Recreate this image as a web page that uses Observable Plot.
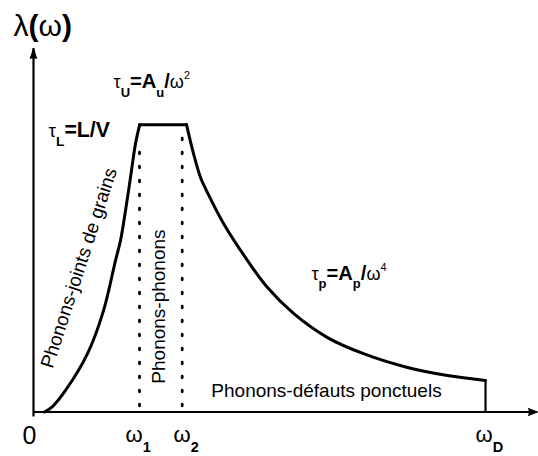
<!DOCTYPE html>
<html><head><meta charset="utf-8">
<script src="https://cdn.jsdelivr.net/npm/d3@7"></script>
<script src="https://cdn.jsdelivr.net/npm/@observablehq/plot@0.6"></script>
<style>
html,body{margin:0;padding:0;background:#fff;}
</style>
</head><body><div id="chart"></div>
<script>
// ---- data (ω in units of ωD/100, λ relative to the plateau) ----
const risingOmega  = [2.43, 4.2, 7.08, 11.95, 15.49, 18.14, 19.25, 20.35, 21.46, 22.57, 23.5];
const risingLambda = [0, 0.019, 0.075, 0.203, 0.353, 0.527, 0.597, 0.70, 0.816, 0.934, 1.0];
const plateauOmega  = [23.5, 33.85];
const plateauLambda = [1.0, 1.0];
const fallingOmega  = [33.85, 35.4, 36.95, 38.5, 42.04, 47.35, 51.77, 57.52, 65.04, 73.01, 82.74, 91.59, 100];
const fallingLambda = [1.0, 0.899, 0.816, 0.763, 0.656, 0.527, 0.433, 0.343, 0.259, 0.203, 0.155, 0.127, 0.110];
const cutoffOmega  = [100, 100];
const cutoffLambda = [0.110, 0];
const regimeBounds   = [23.45, 32.9];   // ω1, ω2
const regimeBoundTop = [0.937, 0.986];
const originLabel = ["0"];
const omegaLabels = ["ω_1", "ω_2", "ω_D"];
const axisTitle = ["λ(ω)"];
const formulas = ["τ_U=A_u/ω^2", "τ_L=L/V", "τ_p=A_p/ω^4"];
const regimes = ["Phonons-joints de grains", "Phonons-phonons", "Phonons-défauts ponctuels"];

const FONT = "'Liberation Sans', Arial, Helvetica, sans-serif";
const xDomain = [0, 111.5];
const yDomain = [0, 1.265];

const curve = [
  ...risingOmega.map((w, i) => ({seg: "rising", w, l: risingLambda[i]})),
  ...plateauOmega.map((w, i) => ({seg: "plateau", w, l: plateauLambda[i]})),
  ...fallingOmega.map((w, i) => ({seg: "falling", w, l: fallingLambda[i]}))
];
const cutoff = cutoffOmega.map((w, i) => ({w, l: cutoffLambda[i]}));

const plot = Plot.plot({
  width: 538, height: 456,
  marginLeft: 33, marginRight: 1, marginTop: 48, marginBottom: 44.5,
  x: {domain: xDomain, axis: null},
  y: {domain: yDomain, axis: null},
  style: {fontFamily: FONT, background: "white", overflow: "visible", color: "black"},
  marks: [
    // axes with arrowheads
    Plot.ruleY([0], {x1: xDomain[0], x2: xDomain[1], strokeWidth: 2.2, insetRight: 5}),
    Plot.ruleX([0], {y1: yDomain[0], y2: yDomain[1], strokeWidth: 2.2, insetTop: 5}),
    Plot.vector([0], {x: xDomain[1], y: 0, rotate: 90, length: 9, r: 3.5, shape: "spike", anchor: "end", fill: "black", stroke: "black", strokeWidth: 1}),
    Plot.vector([0], {x: 0, y: yDomain[1], rotate: 0, length: 10, r: 3.2, shape: "spike", anchor: "end", fill: "black", stroke: "black", strokeWidth: 1}),
    // regime boundaries (dotted)
    Plot.ruleX(regimeBounds, {y1: 0.02, y2: regimeBoundTop, strokeWidth: 2.8, strokeDasharray: "1.5 12.5", strokeLinecap: "round"}),
    // mean free path curve
    Plot.line(curve, {x: "w", y: "l", z: "seg", curve: "catmull-rom", stroke: "black", strokeWidth: 3, strokeLinecap: "round"}),
    Plot.line(cutoff, {x: "w", y: "l", stroke: "black", strokeWidth: 2.2}),
    // regime labels
    Plot.text([regimes[0]], {x: 10.07, y: 0.501, rotate: -72, fontSize: 19, textAnchor: "middle"}),
    Plot.text([regimes[1]], {x: 27.65, y: 0.367, rotate: -90, fontSize: 19, textAnchor: "middle"}),
    Plot.text([regimes[2]], {x: 64.82, y: 0.0505, fontSize: 19, textAnchor: "middle", lineAnchor: "bottom"}),
    // formulas
    Plot.text([formulas[0]], {x: 17.70, y: 1.1258, fontSize: 18, textAnchor: "start", lineAnchor: "bottom", className: "rich-f"}),
    Plot.text([formulas[1]], {x: 3.32, y: 0.9553, fontSize: 19, textAnchor: "start", lineAnchor: "bottom", className: "rich-f"}),
    Plot.text([formulas[2]], {x: 61.5, y: 0.4611, fontSize: 18, textAnchor: "start", lineAnchor: "bottom", className: "rich-f"}),
    // axis title
    Plot.text(axisTitle, {x: -4.42, y: 1.3085, fontSize: 30, textAnchor: "start", lineAnchor: "bottom", className: "rich-t"}),
    // tick labels
    Plot.text(originLabel, {x: -2.43, y: -0.1097, fontSize: 25, textAnchor: "start", lineAnchor: "bottom"}),
    Plot.text(omegaLabels, {x: [20.35, 30.97, 97.79], y: -0.103, fontSize: 22, textAnchor: "start", lineAnchor: "bottom", className: "rich-w"})
  ]
});

document.getElementById("chart").appendChild(plot);

function richify(svg, cls, {boldScale = 1.1, subScale = 0.72, subShift = 0.45, supScale = 0.6, supShift = -0.5} = {}) {
  for (const t of svg.querySelectorAll(`g.${cls} text`)) {
    const base = parseFloat(getComputedStyle(t).fontSize);
    const src = t.textContent;
    const runs = [];
    for (let i = 0; i < src.length; i++) {
      let ch = src[i], kind = "main";
      if ((ch === "_" || ch === "^") && i + 1 < src.length) { kind = ch === "_" ? "sub" : "sup"; ch = src[++i]; }
      const greek = /[\u0370-\u03ff]/.test(ch);
      const bold = kind === "sub" ? true : kind === "sup" ? false : (!greek && !/[0-9]/.test(ch));
      const last = runs[runs.length - 1];
      if (last && last.kind === kind && last.bold === bold) last.text += ch;
      else runs.push({text: ch, kind, bold});
    }
    t.textContent = "";
    let offset = 0;
    for (const r of runs) {
      const size = r.kind === "sub" ? base * subScale : r.kind === "sup" ? base * supScale : r.bold ? base * boldScale : base;
      const target = r.kind === "sub" ? base * subShift : r.kind === "sup" ? base * supShift : 0;
      const ts = document.createElementNS("http://www.w3.org/2000/svg", "tspan");
      ts.setAttribute("font-size", size);
      ts.setAttribute("font-weight", r.bold ? "bold" : "normal");
      if (target !== offset) ts.setAttribute("dy", target - offset);
      offset = target;
      ts.textContent = r.text;
      t.appendChild(ts);
    }
  }
}
richify(plot, "rich-f", {boldScale: 1.12, subScale: 0.72, subShift: 0.45, supScale: 0.6, supShift: -0.5});
richify(plot, "rich-t", {boldScale: 1.0});
richify(plot, "rich-w", {subScale: 0.66, subShift: 0.46});
</script>
</body></html>
